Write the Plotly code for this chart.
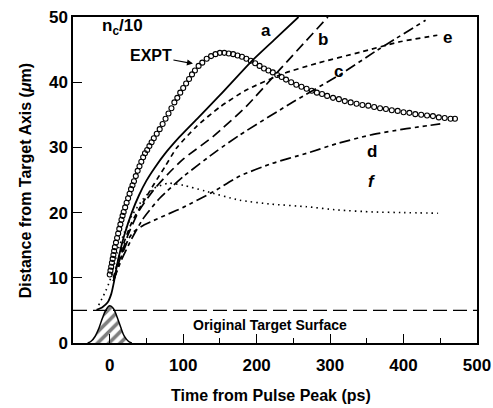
import plotly.graph_objects as go

# ---- data ----
expt_x = [0, 1, 2, 3, 4, 5, 6, 7, 8.5, 10, 11.5, 13, 14.5, 16, 17.5, 19, 21, 23, 25, 27, 29, 31, 33, 35.5, 38, 40.5, 43, 45.5, 48,
          51, 54, 57, 60, 64, 68, 72, 76, 80, 84, 88, 92, 96, 100, 104, 108, 112, 116, 121, 126, 132, 138, 144, 150, 156, 162,
          168, 174, 180, 186, 192, 198, 204, 210, 216, 222, 228, 234, 240, 247, 254, 261, 268, 275, 282, 289, 296, 304, 312, 320,
          328, 336, 344, 352, 360, 368, 376, 384, 392, 400, 408, 416, 424, 432, 440, 448, 456, 464, 470]
expt_y = [10.5, 11.1, 11.7, 12.3, 12.9, 13.5, 14.1, 14.7, 15.4, 16.1, 16.8, 17.5, 18.2, 18.9, 19.5, 20.1, 20.8, 21.5, 22.2, 22.9, 23.6, 24.2, 24.8, 25.6, 26.4, 27.1, 27.8, 28.5, 29.1,
          29.6, 30.2, 30.8, 31.4, 32.1, 32.8, 33.6, 34.4, 35.2, 36.0, 36.9, 37.6, 38.4, 39.1, 39.8, 40.5, 41.2, 41.8, 42.5, 43.0, 43.6, 44.0, 44.3, 44.5, 44.5, 44.4,
          44.3, 44.1, 43.9, 43.6, 43.3, 42.9, 42.5, 42.1, 41.8, 41.5, 41.1, 40.8, 40.4, 40.0, 39.6, 39.3, 39.0, 38.7, 38.4, 38.2, 37.9, 37.6, 37.4, 37.1,
          36.9, 36.7, 36.5, 36.4, 36.2, 36.0, 35.9, 35.7, 35.6, 35.4, 35.3, 35.1, 35.0, 34.9, 34.8, 34.6, 34.5, 34.4, 34.4]

a_x = [-18, -10, -3, 2, 6, 10, 15, 20, 30, 40, 50, 62, 75, 95, 120, 150, 193, 225, 257]
a_y = [5.1, 5.5, 6.2, 7.5, 9.5, 12.0, 14.5, 16.6, 20.0, 22.7, 24.9, 27.0, 29.0, 31.6, 34.5, 38.0, 43.2, 46.6, 50.0]

b_x = [5, 15, 25, 40, 60, 80, 100, 141, 186, 232, 297]
b_y = [9.5, 13.3, 16.6, 20.3, 23.5, 26.0, 28.2, 31.7, 36.3, 42.0, 50.0]

c_x = [5, 15, 30, 45, 68, 100, 145, 177, 250, 314, 364, 430]
c_y = [9.5, 12.5, 16.0, 19.0, 22.2, 25.5, 29.4, 31.9, 37.0, 41.2, 44.9, 49.5]

d_x = [5, 15, 25, 32, 45, 60, 80, 100, 141, 177, 220, 268, 310, 355, 400, 450]
d_y = [9.5, 13.0, 15.8, 17.0, 18.0, 18.8, 19.8, 20.8, 23.2, 25.6, 27.5, 29.1, 30.6, 31.9, 32.8, 33.6]

e_x = [5, 15, 30, 45, 61, 75, 91, 118, 150, 186, 236, 282, 341, 395, 446]
e_y = [10.0, 14.0, 18.5, 21.5, 24.5, 27.0, 29.9, 33.2, 36.2, 38.8, 41.3, 42.9, 44.6, 46.2, 47.2]

f_x = [-15, -5, 0, 5, 10, 20, 30, 45, 60, 80, 100, 130, 177, 220, 268, 310, 359, 400, 447]
f_y = [5.8, 8.1, 9.5, 11.5, 13.8, 17.0, 19.5, 22.0, 23.7, 24.5, 24.2, 23.3, 21.9, 21.3, 20.9, 20.4, 20.1, 20.0, 19.9]

pulse_x = [-30, -25, -20, -15, -10, -5, 0, 5, 10, 15, 20, 25, 30]
pulse_y = [0, 0.3, 1.0, 2.2, 3.8, 5.1, 5.7, 5.3, 4.0, 2.4, 1.0, 0.3, 0]

surface_level = 5.0
x_ticks = [0, 100, 200, 300, 400, 500]
y_ticks = [0, 10, 20, 30, 40, 50]

curve_labels = {"a": (213, 48.0), "b": (290, 46.5), "c": (312, 41.6),
                "d": (357, 29.3), "e": (460, 46.8), "f": (357, 24.7)}

FONT = "Liberation Sans"
fig = go.Figure()

# pulse (hatched)
fig.add_trace(go.Scatter(x=pulse_x, y=pulse_y, mode="lines", fill="toself",
                         line=dict(color="black", width=1.5, shape="spline"),
                         fillcolor="white",
                         fillpattern=dict(shape="/", fgcolor="black", bgcolor="white",
                                          size=8, solidity=0.45),
                         showlegend=False, hoverinfo="skip"))
# original target surface
fig.add_trace(go.Scatter(x=[-50, 500], y=[surface_level, surface_level], mode="lines",
                         line=dict(color="black", width=1.2, dash="14px,6px"),
                         showlegend=False))

styles = [
    (a_x, a_y, "solid", 1.8),
    (b_x, b_y, "10px,5px", 1.7),
    (c_x, c_y, "11px,4px,4px,4px", 1.7),
    (d_x, d_y, "11px,4px,4px,4px,4px,4px", 1.7),
    (e_x, e_y, "5px,4px", 1.7),
    (f_x, f_y, "1.5px,4px", 1.6),
]
for xs, ys, dash, w in styles:
    fig.add_trace(go.Scatter(x=xs, y=ys, mode="lines",
                             line=dict(color="black", width=w, dash=dash, shape="spline", smoothing=0.6),
                             showlegend=False))

fig.add_trace(go.Scatter(x=expt_x, y=expt_y, mode="markers",
                         marker=dict(symbol="circle-open", size=5, color="black", line=dict(width=1.1)),
                         showlegend=False))

annotations = []
for name, (lx, ly) in curve_labels.items():
    txt = f"<b><i>{name}</i></b>" if name == "f" else f"<b>{name}</b>"
    annotations.append(dict(x=lx, y=ly, text=txt, showarrow=False,
                            font=dict(family=FONT, size=17, color="black")))
annotations.append(dict(x=18, y=48.4, text="<b>n<sub>c</sub>/10</b>", showarrow=False,
                        font=dict(family=FONT, size=17, color="black")))
annotations.append(dict(x=116, y=42.8, ax=-44, ay=-8, text="<b>EXPT</b>", showarrow=True,
                        arrowhead=2, arrowsize=1, arrowwidth=1.2, arrowcolor="black", standoff=2,
                        font=dict(family=FONT, size=16, color="black")))
annotations.append(dict(x=218, y=2.8, text="<b>Original Target Surface</b>", showarrow=False,
                        font=dict(family=FONT, size=14, color="black")))
annotations.append(dict(x=0.49, xref="paper", y=-0.16, yref="paper", yanchor="middle",
                        text="<b>Time from Pulse Peak (ps)</b>", showarrow=False,
                        font=dict(family=FONT, size=16, color="black")))
annotations.append(dict(x=-0.118, xref="paper", y=0.5, yref="paper", textangle=-90, xanchor="center",
                        text="<b>Distance from Target Axis (<i>μ</i>m)</b>", showarrow=False,
                        font=dict(family=FONT, size=16, color="black")))

fig.update_layout(
    width=493, height=408,
    margin=dict(l=73, r=16, t=17, b=65, autoexpand=False),
    plot_bgcolor="white", paper_bgcolor="white",
    annotations=annotations,
    xaxis=dict(range=[-50, 500], tickvals=x_ticks, ticks="inside", ticklen=9, tickwidth=1.3,
               tickcolor="black", showgrid=False, zeroline=False, showline=True, linecolor="black",
               linewidth=1.5, mirror=True, ticklabelstandoff=6, automargin=False,
               ticklabeloverflow="allow",
               minor=dict(dtick=50, tick0=0, ticks="inside", ticklen=5, tickwidth=1.3, tickcolor="black", showgrid=False),
               tickfont=dict(family=FONT, size=17, color="black", weight="bold")),
    yaxis=dict(range=[0, 50], tickvals=y_ticks, ticks="inside", ticklen=9, tickwidth=1.3,
               tickcolor="black", showgrid=False, zeroline=False, showline=True, linecolor="black",
               linewidth=1.5, mirror=True, automargin=False, ticklabeloverflow="allow",
               tickfont=dict(family=FONT, size=17, color="black", weight="bold")),
)

# remove the browser's default 8px body margin so the 493x408 figure fills the window exactly
fig.write_html("out.html", config={"displayModeBar": False},
               post_script="document.body.style.margin='0';document.body.style.overflow='hidden';")
